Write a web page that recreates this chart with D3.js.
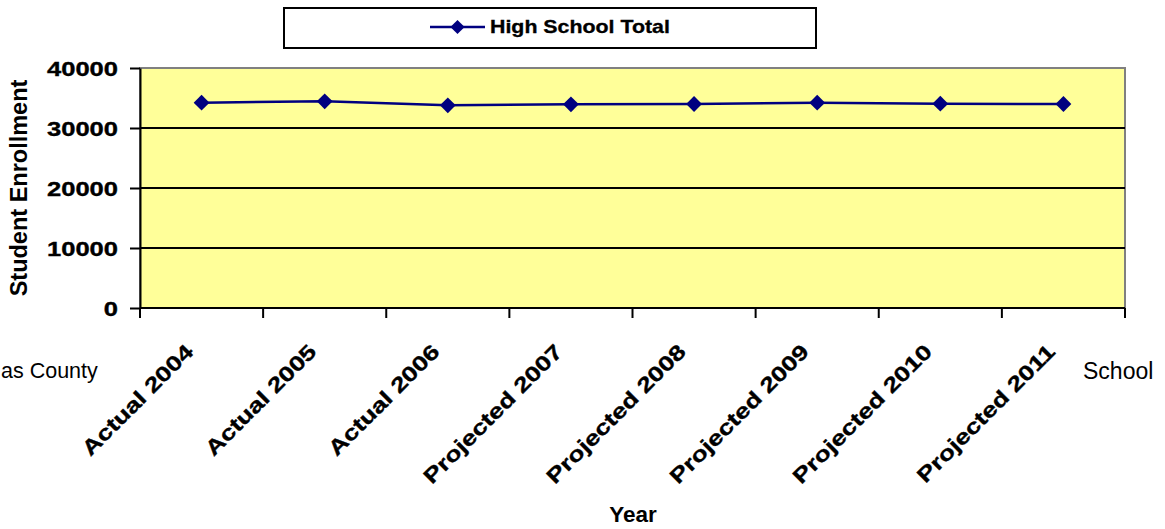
<!DOCTYPE html>
<html>
<head>
<meta charset="utf-8">
<script src="https://cdn.jsdelivr.net/npm/d3@7"></script>
<style>
  body { margin: 0; background: #fff; }
  svg { display: block; }
  text { font-family: "Liberation Sans", Arial, sans-serif; fill: #000; }
</style>
</head>
<body>
<svg id="chart" width="1165" height="529"></svg>
<script>
// Enrollment by year (actual and projected)
const categories = ["Actual 2004", "Actual 2005", "Actual 2006", "Projected 2007",
                    "Projected 2008", "Projected 2009", "Projected 2010", "Projected 2011"];
const enrollment = [34220, 34450, 33780, 33950, 34000, 34220, 34050, 34000];
const yTickValues = [0, 10000, 20000, 30000, 40000];
const seriesName = "High School Total";
const yTitle = "Student Enrollment";
const xTitle = "Year";
const sideNotes = ["as County", "School"];

const svg = d3.select("#chart");
const plot = { left: 140, top: 68, right: 1125, bottom: 308 };
const navy = "#000080";

const x = d3.scaleBand().domain(categories).range([plot.left, plot.right]).padding(0);
const y = d3.scaleLinear().domain([0, 40000]).range([plot.bottom, plot.top]);
const cx = c => x(c) + x.bandwidth() / 2;

// plot area
svg.append("rect")
  .attr("x", plot.left).attr("y", plot.top)
  .attr("width", plot.right - plot.left).attr("height", plot.bottom - plot.top)
  .attr("fill", "#FFFF99").attr("stroke", "#808080").attr("stroke-width", 2);

// horizontal gridlines
svg.append("g").selectAll("line")
  .data(yTickValues.filter(v => v > 0 && v < 40000))
  .join("line")
  .attr("x1", plot.left).attr("x2", plot.right)
  .attr("y1", d => y(d)).attr("y2", d => y(d))
  .attr("stroke", "#000").attr("stroke-width", 2);

// y axis
const yAxis = svg.append("g")
  .attr("transform", `translate(${plot.left},0)`)
  .call(d3.axisLeft(y).tickValues(yTickValues).tickSize(10).tickSizeOuter(0).tickFormat(d3.format("d")));
yAxis.select(".domain").attr("stroke", "#000").attr("stroke-width", 2);
yAxis.selectAll(".tick line").attr("stroke", "#000").attr("stroke-width", 2);
yAxis.selectAll(".tick text")
  .attr("x", null).attr("dy", "0.36em")
  .attr("transform", "translate(-22,0) scale(1.31,1)")
  .attr("text-anchor", "end")
  .attr("stroke", "#000").attr("stroke-width", 0.35)
  .style("font-size", "19.5px").style("font-weight", "bold");

// x axis line and category boundary ticks
const bounds = categories.map(c => x(c)).concat([x.range()[1]]);
svg.append("line")
  .attr("x1", plot.left).attr("x2", plot.right)
  .attr("y1", plot.bottom).attr("y2", plot.bottom)
  .attr("stroke", "#000").attr("stroke-width", 2);
svg.append("g").selectAll("line")
  .data(bounds).join("line")
  .attr("x1", d => d).attr("x2", d => d)
  .attr("y1", plot.bottom).attr("y2", plot.bottom + 10)
  .attr("stroke", "#000").attr("stroke-width", 2);

// rotated category labels
svg.append("g").selectAll("text")
  .data(categories).join("text")
  .attr("transform", d => `translate(${cx(d) - 7},${plot.bottom + 45}) rotate(-45) scale(1.26,1)`)
  .attr("text-anchor", "end")
  .attr("stroke", "#000").attr("stroke-width", 0.35)
  .style("font-size", "21px").style("font-weight", "bold")
  .text(d => d);

// series line and markers
const line = d3.line().x((d, i) => cx(categories[i])).y(d => y(d));
svg.append("path")
  .datum(enrollment)
  .attr("d", line)
  .attr("fill", "none").attr("stroke", navy).attr("stroke-width", 2.5);

const diamond = d3.symbol(d3.symbolSquare, 125);
svg.append("g").selectAll("path")
  .data(enrollment).join("path")
  .attr("d", diamond)
  .attr("transform", (d, i) => `translate(${cx(categories[i])},${y(d)}) rotate(45)`)
  .attr("fill", navy);

// axis titles
svg.append("text")
  .attr("transform", `translate(27,188) rotate(-90)`)
  .attr("text-anchor", "middle")
  .style("font-size", "23.5px").style("font-weight", "bold")
  .text(yTitle);
svg.append("text")
  .attr("x", 633).attr("y", 522)
  .attr("text-anchor", "middle")
  .style("font-size", "22.5px").style("font-weight", "bold")
  .text(xTitle);

// side notes
svg.append("text")
  .attr("x", 1).attr("y", 378).attr("text-anchor", "start")
  .style("font-size", "21.5px").text(sideNotes[0]);
svg.append("text")
  .attr("x", 1083).attr("y", 379).attr("text-anchor", "start")
  .style("font-size", "23px").text(sideNotes[1]);

// legend
const legend = svg.append("g");
legend.append("rect")
  .attr("x", 284).attr("y", 8).attr("width", 532).attr("height", 40)
  .attr("fill", "#fff").attr("stroke", "#000").attr("stroke-width", 2);
legend.append("line")
  .attr("x1", 430).attr("x2", 485).attr("y1", 27).attr("y2", 27)
  .attr("stroke", navy).attr("stroke-width", 2.5);
legend.append("path")
  .attr("d", d3.symbol(d3.symbolSquare, 100))
  .attr("transform", "translate(457.5,27) rotate(45)")
  .attr("fill", navy);
legend.append("text")
  .attr("transform", "translate(490,27) scale(1.22,1)")
  .attr("dy", "0.36em")
  .attr("stroke", "#000").attr("stroke-width", 0.3)
  .style("font-size", "17.5px").style("font-weight", "bold")
  .text(seriesName);
</script>
</body>
</html>
